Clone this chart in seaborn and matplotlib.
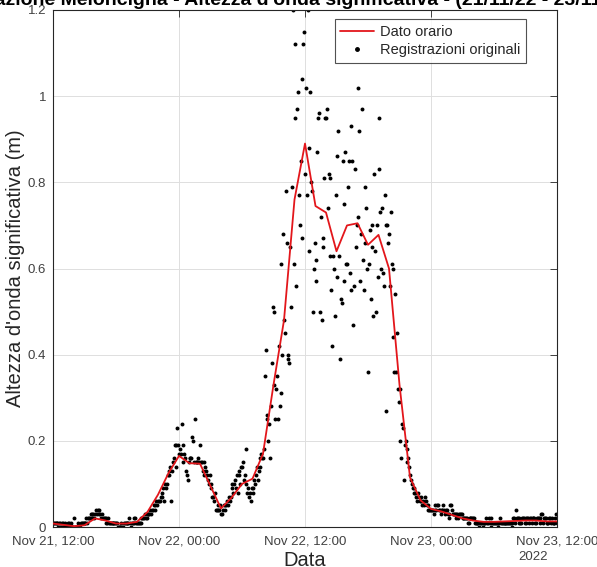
import matplotlib
matplotlib.use("Agg")
import matplotlib.pyplot as plt
import matplotlib.dates as mdates
from matplotlib.lines import Line2D
import numpy as np
import pandas as pd
import seaborn as sns

# Hourly significant wave height (m), from Nov 21 12:00 to Nov 23 12:00
hourly_hs = [0.008, 0.005, 0.002, 0.004, 0.020, 0.015, 0.008, 0.008, 0.012, 0.035,
             0.075, 0.125, 0.165, 0.148, 0.147, 0.095, 0.043, 0.068, 0.100, 0.112,
             0.170, 0.330, 0.480, 0.760, 0.890, 0.745, 0.730, 0.640, 0.700, 0.705,
             0.655, 0.678, 0.600, 0.330, 0.115, 0.062, 0.042, 0.036, 0.028, 0.020,
             0.015, 0.012, 0.012, 0.013, 0.014, 0.015, 0.015, 0.013, 0.013]

# Original 5-minute records (cm), one row per hour
rec_hs_cm = [
    1, 1, 1, 1, 1, 1, 0, 1, 1, 0, 1, 1,
    0, 0, 1, 0, 0, 1, 1, 0, 0, 1, 0, 0,
    2, 0, 0, 0, 1, 0, 0, 0, 1, 1, 1, 1,
    1, 1, 2, 1, 2, 2, 2, 3, 2, 3, 3, 2,
    3, 4, 3, 4, 4, 3, 3, 2, 3, 2, 2, 2,
    2, 1, 1, 2, 1, 1, 1, 1, 1, 1, 1, 1,
    1, 1, 0, 0, 0, 0, 1, 0, 0, 1, 1, 1,
    1, 1, 1, 2, 1, 0, 1, 1, 1, 2, 2, 1,
    1, 1, 1, 1, 2, 1, 2, 2, 2, 3, 2, 2,
    3, 3, 3, 4, 3, 4, 4, 5, 4, 5, 6, 5,
    6, 6, 6, 7, 7, 8, 9, 6, 10, 9, 10, 12,
    12, 13, 14, 6, 13, 15, 16, 19, 19, 14, 23, 19,
    17, 18, 17, 24, 15, 19, 17, 16, 13, 12, 11, 15,
    16, 16, 16, 21, 20, 15, 25, 15, 15, 15, 16, 15,
    19, 15, 15, 13, 15, 12, 14, 13, 12, 11, 10, 12,
    10, 9, 7, 7, 6, 8, 4, 4, 4, 5, 4, 5,
    3, 3, 4, 5, 5, 4, 5, 6, 5, 7, 6, 7,
    10, 9, 8, 10, 11, 9, 12, 8, 13, 12, 10, 14,
    14, 15, 11, 12, 10, 18, 8, 9, 7, 8, 6, 9,
    9, 8, 11, 10, 12, 14, 11, 13, 16, 14, 17, 16,
    16, 18, 35, 41, 25, 26, 20, 24, 16, 28, 38, 51,
    50, 33, 25, 32, 35, 25, 42, 28, 31, 61, 40, 68,
    48, 45, 78, 66, 39, 40, 38, 65, 51, 79, 120, 61,
    112, 95, 56, 97, 101, 77, 70, 85, 67, 104, 112, 115,
    82, 102, 77, 120, 88, 64, 101, 80, 78, 50, 60, 66,
    62, 57, 87, 95, 96, 50, 72, 48, 65, 67, 81, 95,
    95, 97, 74, 82, 63, 81, 55, 42, 63, 60, 49, 77,
    86, 58, 92, 63, 39, 53, 52, 85, 75, 57, 87, 61,
    61, 79, 85, 59, 93, 55, 85, 47, 56, 83, 65, 70,
    72, 102, 92, 57, 68, 97, 62, 55, 79, 66, 74, 60,
    36, 61, 69, 53, 70, 65, 49, 82, 64, 50, 70, 58,
    83, 95, 73, 60, 74, 59, 56, 77, 70, 27, 70, 66,
    68, 56, 73, 61, 44, 60, 36, 54, 36, 45, 32, 29,
    32, 20, 16, 24, 23, 11, 19, 20, 18, 15, 16, 14,
    12, 11, 10, 9, 8, 9, 8, 7, 6, 8, 7, 6,
    6, 7, 5, 6, 5, 7, 6, 5, 4, 5, 4, 4,
    4, 4, 4, 3, 4, 5, 4, 5, 5, 4, 4, 3,
    4, 4, 5, 4, 3, 4, 4, 3, 2, 3, 5, 5,
    4, 3, 3, 3, 3, 2, 3, 2, 3, 3, 3, 3,
    2, 2, 2, 2, 2, 2, 1, 1, 2, 2, 2, 2,
    2, 2, 1, 1, 1, 1, 1, 0, 1, 1, 1, 0,
    1, 1, 1, 2, 1, 1, 2, 1, 0, 2, 1, 1,
    1, 1, 1, 1, 0, 1, 1, 2, 1, 1, 1, 1,
    1, 1, 1, 1, 1, 1, 1, 1, 0, 1, 2, 2,
    1, 4, 2, 2, 2, 1, 1, 1, 2, 2, 2, 1,
    2, 1, 2, 2, 1, 2, 2, 1, 2, 2, 2, 1,
    1, 2, 2, 2, 1, 2, 3, 3, 1, 2, 2, 2,
    1, 1, 1, 2, 2, 1, 2, 1, 1, 1, 2, 3,
    1,
]

tick_times = ["2022-11-21 12:00", "2022-11-22 00:00", "2022-11-22 12:00",
              "2022-11-23 00:00", "2022-11-23 12:00"]
y_ticks = [0, 0.2, 0.4, 0.6, 0.8, 1.0, 1.2]
y_tick_labels = ["0", "0.2", "0.4", "0.6", "0.8", "1", "1.2"]

title_text = "Stazione Meloncigna - Altezza d'onda significativa - (21/11/22 - 23/11/22)"

start = pd.Timestamp("2022-11-21 12:00")
hourly = pd.DataFrame({
    "time": pd.date_range(start, periods=len(hourly_hs), freq="h"),
    "hs": hourly_hs,
})
records = pd.DataFrame({
    "time": pd.date_range(start, periods=len(rec_hs_cm), freq="5min"),
    "hs": np.array(rec_hs_cm) / 100.0,
})

sns.set_theme(style="white")
plt.rcParams["font.family"] = ["Liberation Sans", "DejaVu Sans"]

W, H = 597, 567
fig = plt.figure(figsize=(W / 100, H / 100), dpi=100)
ax = fig.add_axes([53 / W, 1 - 527 / H, 504 / W, 517 / H])

sns.scatterplot(data=records, x="time", y="hs", ax=ax, color="black",
                s=8, linewidth=0, marker="o", zorder=2, legend=False)
sns.lineplot(data=hourly, x="time", y="hs", ax=ax, color="#e3161b",
             linewidth=1.3, zorder=3, legend=False)

ticks = pd.to_datetime(tick_times)
ax.set_xlim(ticks[0], ticks[-1])
ax.set_ylim(0, 1.2)
ax.set_xticks(ticks)
ax.xaxis.set_major_formatter(mdates.DateFormatter("%b %d, %H:%M"))
ax.set_yticks(y_ticks)
ax.set_yticklabels(y_tick_labels)

tick_color = "#404040"
ax.tick_params(axis="both", which="major", direction="in", length=5,
               width=0.6, colors="#262626", labelcolor=tick_color,
               labelsize=9.5, top=True, right=True)
ax.tick_params(axis="x", pad=6)
ax.tick_params(axis="y", pad=5)
ax.grid(True, color="#dedede", linewidth=0.7)
ax.set_axisbelow(True)
for sp in ax.spines.values():
    sp.set_color("#262626")
    sp.set_linewidth(0.8)

ax.set_xlabel("Data", fontsize=14.5, color="#262626", labelpad=3)
ax.set_ylabel("Altezza d'onda significativa (m)", fontsize=14.5,
              color="#262626", labelpad=2)

# year marker under the last date tick
fig.text(518 / W, 1 - 557 / H, "2022", fontsize=9.5,
         color=tick_color, ha="left", va="center")

fig.text(305 / W, 1 - 5 / H, title_text, ha="center", va="baseline",
         fontsize=14, fontweight="bold", color="black")

handles = [
    Line2D([], [], color="#e3161b", linewidth=1.3, label="Dato orario"),
    Line2D([], [], color="black", linestyle="none", marker="o",
           markersize=2.5, label="Registrazioni originali"),
]
leg = ax.legend(handles=handles, loc="upper right",
                bbox_to_anchor=((526 - 53) / 504, (527 - 19) / 517),
                fontsize=10.5, frameon=True, fancybox=False, borderpad=0.4,
                handlelength=2.3, handletextpad=0.4, labelspacing=0.3,
                borderaxespad=0)
leg.get_frame().set_edgecolor("#262626")
leg.get_frame().set_linewidth(0.8)

fig.savefig("out.png", dpi=100)
